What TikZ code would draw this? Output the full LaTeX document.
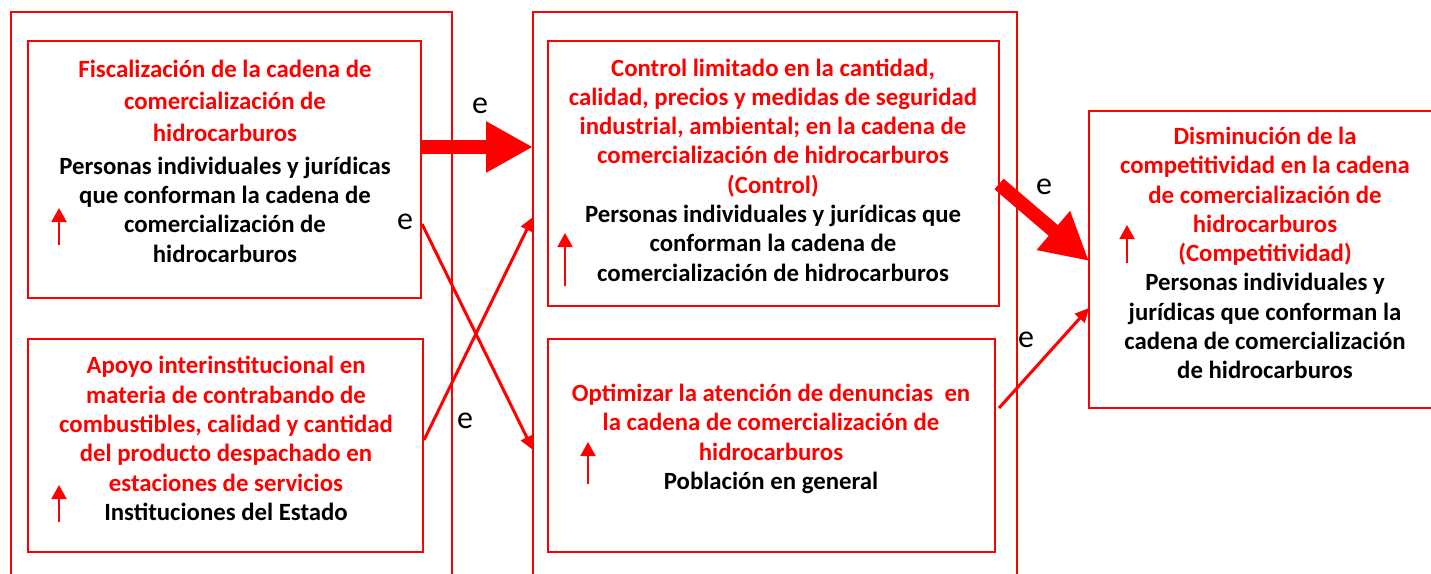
\documentclass[tikz,border=0pt]{standalone}
\usepackage{fontspec}
\setmainfont{Carlito}
\usetikzlibrary{arrows.meta}
\definecolor{pred}{RGB}{255,0,0}
\newcommand\redl[1]{\textcolor{pred}{#1}}
\begin{document}
\begin{tikzpicture}[x=1pt,y=-1pt,
  frame/.style={draw=pred, line width=2pt, inner sep=0pt, outer sep=0pt, anchor=north west},
  txt/.style={align=center, inner sep=0pt, font=\bfseries\fontsize{24.8}{29.3}\selectfont},
  lbl/.style={inner sep=0pt, font=\fontsize{32}{32}\selectfont},
  bigarrow/.style={draw=pred, line width=14pt, -{Triangle[width=48pt,length=47pt]}},
  thinarrow/.style={draw=pred, line width=3pt, -{Triangle[width=13pt,length=14pt]}},
  uparrow/.style={draw=pred, line width=2pt, -{Triangle[width=15pt,length=14pt]}}
]
\useasboundingbox (0,0) rectangle (1431,573);
\clip (0,0) rectangle (1431,573);
\fill[white] (0,0) rectangle (1431,573);
% outer frames
\node[frame, minimum width=441, minimum height=620] (f1) at (11,12) {};
\node[frame, minimum width=484, minimum height=620] (f2) at (533,12) {};
% boxes
\node[frame, minimum width=393, minimum height=257] (b1) at (28,41) {};
\node[frame, minimum width=395, minimum height=213] (b2) at (28,339) {};
\node[frame, minimum width=451, minimum height=265] (b3) at (548,41) {};
\node[frame, minimum width=447, minimum height=213] (b4) at (548,339) {};
\node[frame, minimum width=400, minimum height=297] (b5) at (1089,111) {};
% texts
\node[txt] (t1) at (225,161) {\redl{Fiscalización de la cadena de}\\[3pt]\redl{comercialización de}\\[3pt]\redl{hidrocarburos}\\[3pt]Personas individuales y jurídicas\\que conforman la cadena de\\comercialización de\\hidrocarburos};
\node[txt] (t2) at (226,438.5) {\redl{Apoyo interinstitucional en}\\\redl{materia de contrabando de}\\\redl{combustibles, calidad y cantidad}\\\redl{del producto despachado en}\\\redl{estaciones de servicios}\\Instituciones del Estado};
\node[txt] (t3) at (773,170) {\redl{Control limitado en la cantidad,}\\\redl{calidad, precios y medidas de seguridad}\\\redl{industrial, ambiental; en la cadena de}\\\redl{comercialización de hidrocarburos}\\\redl{(Control)}\\Personas individuales y jurídicas que\\conforman la cadena de\\comercialización de hidrocarburos};
\node[txt] (t4) at (771,439) {\redl{Optimizar la atención de denuncias\ \ en}\\\redl{la cadena de comercialización de}\\\redl{hidrocarburos}\\Población en general};
\node[txt] (t5) at (1265,253) {\redl{Disminución de la}\\\redl{competitividad en la cadena}\\\redl{de comercialización de}\\\redl{hidrocarburos}\\\redl{(Competitividad)}\\Personas individuales y\\jurídicas que conforman la\\cadena de comercialización\\de hidrocarburos};
% small up arrows
\draw[uparrow] (59,245) -- (59,208);
\draw[uparrow] (59,522) -- (59,485);
\draw[uparrow] (565,286) -- (565,233);
\draw[uparrow] (588,484) -- (588,442);
\draw[uparrow] (1127,263) -- (1127,225);
% connectors
\draw[bigarrow] ([yshift=22.5pt]b1.east) coordinate (a1s) -- (a1s -| f2.west);
\draw[thinarrow] ([xshift=1pt,yshift=-54.5pt]b1.east) -- ([yshift=-128pt]f2.west);
\draw[thinarrow] ([xshift=1pt,yshift=5.5pt]b2.east) -- ([yshift=105pt]f2.west);
\draw[bigarrow] ([yshift=-10.5pt]b3.east) -- ([yshift=-1.5pt]b5.west);
\draw[thinarrow] ([xshift=4pt,yshift=37.5pt]b4.east) -- ([yshift=-48.5pt]b5.west);
% labels
\node[lbl] (l1) at (480,106) {e};
\node[lbl] (l2) at (405,222) {e};
\node[lbl] (l3) at (465,421) {e};
\node[lbl] (l4) at (1044,187) {e};
\node[lbl] (l5) at (1026,340) {e};
\end{tikzpicture}
\end{document}
